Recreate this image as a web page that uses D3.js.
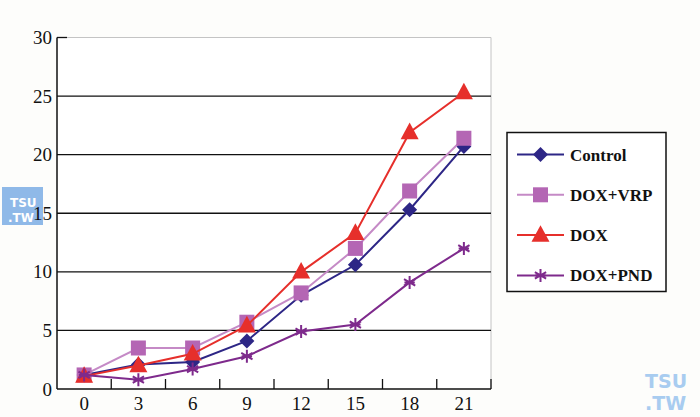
<!DOCTYPE html>
<html><head><meta charset="utf-8">
<script src="https://cdn.jsdelivr.net/npm/d3@7"></script>
<style>
html,body{margin:0;padding:0;background:#fdfdfb;}
svg{display:block;}
</style></head>
<body>
<svg id="c" width="700" height="417"></svg>
<script>
const categories = ["0","3","6","9","12","15","18","21"];
const yTicks = [0,5,10,15,20,25,30];
const control = [1.2, 2.1, 2.3, 4.1, 8.0, 10.6, 15.3, 20.7];
const doxVrp  = [1.2, 3.5, 3.5, 5.7, 8.2, 12.0, 16.9, 21.4];
const dox     = [1.1, 2.0, 3.0, 5.4, 10.0, 13.3, 21.9, 25.3];
const doxPnd  = [1.2, 0.8, 1.7, 2.8, 4.9, 5.5, 9.1, 12.0];
const seriesNames = ["Control","DOX+VRP","DOX","DOX+PND"];

const series = [
  {name: seriesNames[0], values: control, color: "#2d2686", line: "#2d2686", marker: "diamond"},
  {name: seriesNames[1], values: doxVrp, color: "#b466b4", line: "#c58ac6", marker: "square"},
  {name: seriesNames[2], values: dox, color: "#e62f2b", line: "#e62f2b", marker: "triangle"},
  {name: seriesNames[3], values: doxPnd, color: "#7e2a8c", line: "#7e2a8c", marker: "asterisk"}
];

const svg = d3.select("#c");
const L = 57, R = 491, T = 37.5, B = 389;
const x = d3.scaleBand().domain(categories).range([L, R]);
const y = d3.scaleLinear().domain([0, 30]).range([B, T]);
const cx = c => x(c) + x.bandwidth() / 2;
const font = "'Liberation Serif','DejaVu Serif',serif";

// plot area
svg.append("rect").attr("x", L).attr("y", T).attr("width", R - L).attr("height", B - T).attr("fill", "#ffffff");
// light frame top/right
svg.append("line").attr("x1", L).attr("x2", R).attr("y1", T).attr("y2", T).attr("stroke", "#c4c4c4").attr("stroke-width", 1);
svg.append("line").attr("x1", R).attr("x2", R).attr("y1", T).attr("y2", B).attr("stroke", "#c4c4c4").attr("stroke-width", 1);

// gridlines
svg.append("g").selectAll("line").data(yTicks.filter(v => v > 0 && v < 30)).join("line")
  .attr("x1", L).attr("x2", R).attr("y1", d => y(d)).attr("y2", d => y(d))
  .attr("stroke", "#111").attr("stroke-width", 1.3);
// top tick
svg.append("line").attr("x1", L).attr("x2", L + 10).attr("y1", y(30)).attr("y2", y(30)).attr("stroke", "#111").attr("stroke-width", 1.3);

// y axis labels
const yAxis = d3.axisLeft(y).tickValues(yTicks).tickSize(0).tickPadding(5);
const gy = svg.append("g").attr("transform", `translate(${L},0)`).call(yAxis);
gy.select(".domain").remove();
gy.selectAll("text").attr("font-family", font).attr("font-size", 19).attr("fill", "#111");

// x axis labels
const xAxis = d3.axisBottom(x).tickSize(0).tickPadding(8);
const gx = svg.append("g").attr("transform", `translate(0,${B})`).call(xAxis);
gx.select(".domain").remove();
gx.selectAll("text").attr("font-family", font).attr("font-size", 19).attr("fill", "#111");

// x boundary ticks (inward)
svg.append("g").selectAll("line").data(categories.slice(1)).join("line")
  .attr("x1", d => x(d)).attr("x2", d => x(d)).attr("y1", B).attr("y2", B - 10)
  .attr("stroke", "#111").attr("stroke-width", 1.3);
svg.append("line").attr("x1", R).attr("x2", R).attr("y1", B).attr("y2", B - 10).attr("stroke", "#111").attr("stroke-width", 1.3);

// axis lines
svg.append("line").attr("x1", L).attr("x2", L).attr("y1", T).attr("y2", B).attr("stroke", "#111").attr("stroke-width", 1.5);
svg.append("line").attr("x1", L).attr("x2", R).attr("y1", B).attr("y2", B).attr("stroke", "#111").attr("stroke-width", 1.5);

function drawMarker(g, type, px, py, color) {
  if (type === "diamond") {
    const s = 7.5;
    g.append("path").attr("d", `M${px},${py - s}L${px + s},${py}L${px},${py + s}L${px - s},${py}Z`).attr("fill", color);
  } else if (type === "square") {
    const s = 7.5;
    g.append("rect").attr("x", px - s).attr("y", py - s).attr("width", 2 * s).attr("height", 2 * s).attr("fill", color);
  } else if (type === "triangle") {
    const s = 9;
    g.append("path").attr("d", `M${px},${py - s * 1.1}L${px + s},${py + s * 0.75}L${px - s},${py + s * 0.75}Z`).attr("fill", color);
  } else {
    const s = 6.5;
    const a = s * Math.cos(Math.PI / 6), b = s * Math.sin(Math.PI / 6);
    g.append("path").attr("d",
      `M${px},${py - s}L${px},${py + s}M${px - a},${py - b}L${px + a},${py + b}M${px - a},${py + b}L${px + a},${py - b}M${px - s*0.8},${py}L${px + s*0.8},${py}`)
      .attr("stroke", color).attr("stroke-width", 2).attr("fill", "none");
  }
}

const line = d3.line().x((d, i) => cx(categories[i])).y(d => y(d));
series.forEach(s => {
  const g = svg.append("g");
  g.append("path").datum(s.values).attr("d", line).attr("fill", "none")
    .attr("stroke", s.line).attr("stroke-width", 2);
  s.values.forEach((v, i) => drawMarker(g, s.marker, cx(categories[i]), y(v), s.color));
});

// legend
const lg = svg.append("g");
lg.append("rect").attr("x", 507).attr("y", 132.5).attr("width", 159).attr("height", 159)
  .attr("fill", "#ffffff").attr("stroke", "#111").attr("stroke-width", 1.5);
series.forEach((s, i) => {
  const ry = 154.5 + i * 40.3;
  const g = lg.append("g");
  g.append("line").attr("x1", 517).attr("x2", 564).attr("y1", ry).attr("y2", ry)
    .attr("stroke", s.line).attr("stroke-width", 2);
  drawMarker(g, s.marker, 540.5, ry, s.color);
  g.append("text").attr("x", 570).attr("y", ry + 6).text(s.name)
    .attr("font-family", font).attr("font-size", 17).attr("font-weight", "bold").attr("fill", "#111");
});

// watermarks
const wm = svg.append("g");
wm.append("rect").attr("x", 2).attr("y", 187).attr("width", 41).attr("height", 38).attr("fill", "#8fb9e8");
wm.append("text").attr("x", 10).attr("y", 207).text("TSU").attr("font-family", "'DejaVu Sans',sans-serif")
  .attr("font-weight", "bold").attr("font-size", 12).attr("fill", "#ffffff");
wm.append("text").attr("x", 8).attr("y", 222).text(".TW").attr("font-family", "'DejaVu Sans',sans-serif")
  .attr("font-weight", "bold").attr("font-size", 12).attr("fill", "#ffffff");
// redraw 15 label over watermark
gy.raise();
wm.append("text").attr("x", 645).attr("y", 388).text("TSU").attr("font-family", "'DejaVu Sans',sans-serif")
  .attr("font-weight", "bold").attr("font-size", 19).attr("fill", "#a8ccf0");
wm.append("text").attr("x", 645).attr("y", 410).text(".TW").attr("font-family", "'DejaVu Sans',sans-serif")
  .attr("font-weight", "bold").attr("font-size", 19).attr("fill", "#a8ccf0");
</script>
</body></html>
